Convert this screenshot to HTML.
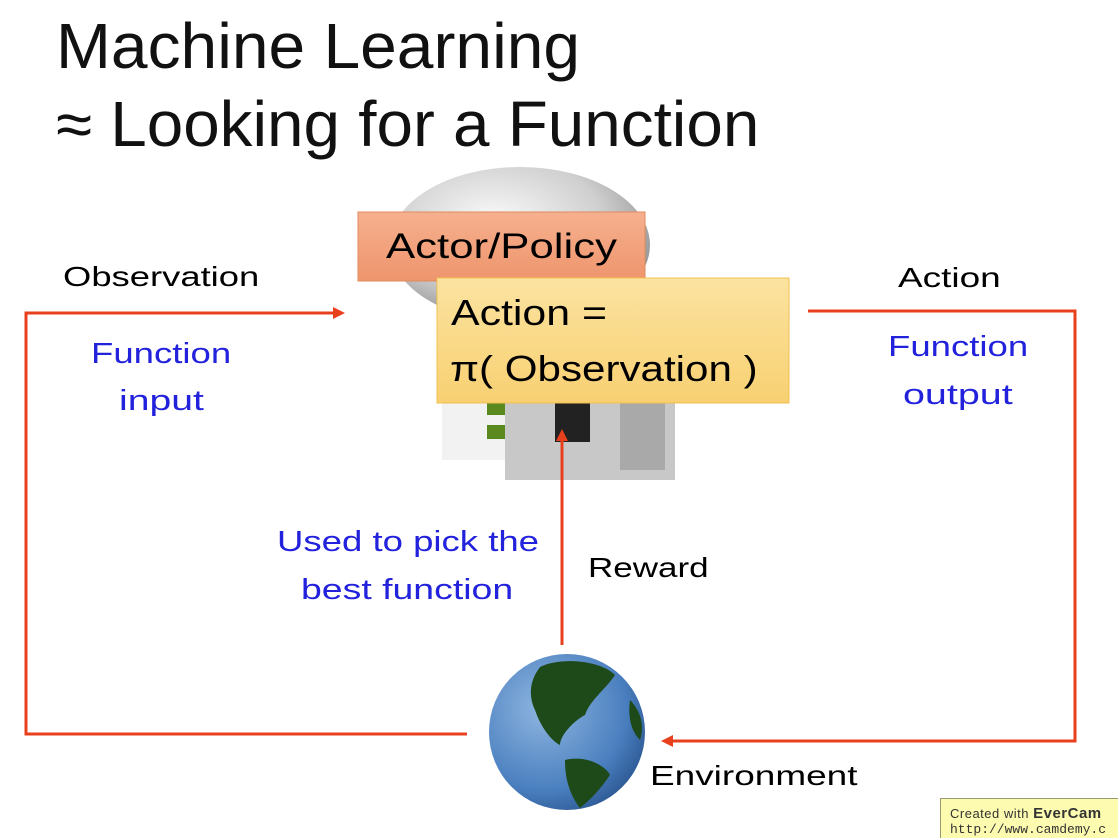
<!DOCTYPE html>
<html><head><meta charset="utf-8"><style>
body{margin:0;width:1118px;height:838px;background:#fff;position:relative;overflow:hidden;font-family:"Liberation Sans","DejaVu Sans",sans-serif}
.t{position:absolute;white-space:nowrap;line-height:1;transform-origin:0 0}
.b{color:#2222dd}
</style></head><body>
<svg width="1118" height="838" style="position:absolute;left:0;top:0">
<defs>
<radialGradient id="h" cx="0.4" cy="0.35" r="0.7"><stop offset="0" stop-color="#fafafa"/><stop offset="0.6" stop-color="#cfcfcf"/><stop offset="1" stop-color="#8a8a8a"/></radialGradient>
<radialGradient id="g" cx="0.35" cy="0.35" r="0.75"><stop offset="0" stop-color="#8fb6e0"/><stop offset="0.7" stop-color="#4a7fbf"/><stop offset="1" stop-color="#2a558f"/></radialGradient>
<linearGradient id="o" x1="0" y1="0" x2="0" y2="1"><stop offset="0" stop-color="#f6b08e"/><stop offset="1" stop-color="#ee956d"/></linearGradient>
<linearGradient id="y" x1="0" y1="0" x2="0" y2="1"><stop offset="0" stop-color="#fbe3a0"/><stop offset="1" stop-color="#f8d072"/></linearGradient>
</defs>
<ellipse cx="520" cy="245" rx="130" ry="78" fill="url(#h)"/>
<rect x="442" y="395" width="115" height="65" fill="#f2f2f2"/>
<rect x="487" y="402" width="20" height="13" fill="#5a8a1e"/>
<rect x="487" y="425" width="20" height="14" fill="#5a8a1e"/>
<rect x="505" y="400" width="170" height="80" fill="#c8c8c8"/>
<rect x="555" y="402" width="35" height="40" fill="#222"/>
<rect x="620" y="400" width="45" height="70" fill="#a9a9a9"/>
<rect x="358" y="212" width="287" height="69" fill="url(#o)" stroke="#e08a5c"/>
<rect x="437" y="278" width="352" height="125" fill="url(#y)" stroke="#f0c050"/>
<g stroke="#e8401c" stroke-width="3" fill="none">
<polyline points="467,734 26,734 26,313 336,313"/>
<polyline points="808,311 1075,311 1075,741 670,741"/>
<line x1="562" y1="645" x2="562" y2="438"/>
</g>
<g fill="#e8401c">
<polygon points="345,313 333,307 333,319"/>
<polygon points="661,741 673,735 673,747"/>
<polygon points="562,429 556,441 568,441"/>
</g>
<circle cx="567" cy="732" r="78" fill="url(#g)"/>
<path d="M540,667 C560,657 600,660 615,675 C605,690 590,700 585,715 C575,720 560,735 560,745 C550,740 540,725 535,710 C528,695 530,680 540,667Z" fill="#1e4a1a"/>
<path d="M565,760 C585,755 605,765 610,775 C600,790 590,800 580,808 C570,795 565,780 565,760Z" fill="#1e4a1a"/>
<path d="M630,700 C640,710 645,725 640,740 C630,730 628,715 630,700Z" fill="#1e4a1a"/>
<rect x="940.5" y="798.5" width="180" height="45" fill="#fdfbb0" stroke="#9a9a70"/>
</svg>
<div class="t" style="left:56px;top:14px;font-size:64px;color:#111;transform:scaleX(1.03)">Machine Learning</div>
<div class="t" style="left:56px;top:92px;font-size:64px;color:#111;transform:scaleX(1.025)">≈ Looking for a Function</div>
<div class="t" style="left:386px;top:229px;font-size:35px;transform:scaleX(1.25)">Actor/Policy</div>
<div class="t" style="left:451px;top:295px;font-size:36px;transform:scaleX(1.19)">Action =</div>
<div class="t" style="left:450px;top:351px;font-size:36px;transform:scaleX(1.17)">π( Observation )</div>
<div class="t" style="left:63px;top:263px;font-size:28px;transform:scaleX(1.3)">Observation</div>
<div class="t b" style="left:91px;top:340px;font-size:29px;transform:scaleX(1.26)">Function</div>
<div class="t b" style="left:119px;top:387px;font-size:29px;transform:scaleX(1.35)">input</div>
<div class="t" style="left:898px;top:264px;font-size:28px;transform:scaleX(1.32)">Action</div>
<div class="t b" style="left:888px;top:333px;font-size:29px;transform:scaleX(1.26)">Function</div>
<div class="t b" style="left:903px;top:381px;font-size:29px;transform:scaleX(1.36)">output</div>
<div class="t b" style="left:277px;top:528px;font-size:29px;transform:scaleX(1.26)">Used to pick the</div>
<div class="t b" style="left:301px;top:576px;font-size:29px;transform:scaleX(1.29)">best function</div>
<div class="t" style="left:588px;top:554px;font-size:28px;transform:scaleX(1.25)">Reward</div>
<div class="t" style="left:650px;top:762px;font-size:28px;transform:scaleX(1.32)">Environment</div>
<div class="t" style="left:950px;top:806px;font-size:13px;color:#333;letter-spacing:0.5px">Created with <b style="font-size:15px">EverCam</b></div>
<div class="t" style="left:950px;top:823px;font-size:13px;color:#333;font-family:'Liberation Mono',monospace">http://www.camdemy.c</div>
</body></html>
